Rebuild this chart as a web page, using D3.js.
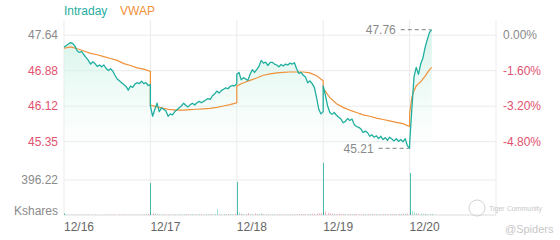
<!DOCTYPE html>
<html>
<head>
<meta charset="utf-8">
<script src="https://cdn.jsdelivr.net/npm/d3@7"></script>
<style>
  body { margin: 0; background: #fff; }
  svg { display: block; font-family: "Liberation Sans", Arial, sans-serif; }
</style>
</head>
<body>
<div id="chart"></div>
<script>
// --- data ---
const dayLabels = ["12/16", "12/17", "12/18", "12/19", "12/20"];
const prevClose = 47.64;
const pctTicks = [0, -1.6, -3.2, -4.8];
const volTick = 396.22;

// intraday price, one sample every 10 minutes
const priceDay1 = [47.38, 47.42, 47.45, 47.48, 47.46, 47.40, 47.30, 47.27, 47.29, 47.22,
  47.16, 47.10, 47.02, 47.07, 47.03, 46.97, 47.00, 46.96, 47.00, 46.93,
  46.88, 46.92, 46.87, 46.78, 46.70, 46.66, 46.62, 46.58, 46.54, 46.46,
  46.55, 46.52, 46.59, 46.62, 46.60, 46.65, 46.60, 46.62, 46.56, 46.58];
const priceDay2 = [46.12, 45.90, 46.05, 46.18, 46.00, 46.08, 46.05, 46.01, 45.90, 45.95,
  45.93, 46.00, 46.04, 46.08, 46.12, 46.18, 46.13, 46.10, 46.15, 46.18,
  46.14, 46.19, 46.22, 46.19, 46.22, 46.25, 46.28, 46.26, 46.34, 46.38,
  46.44, 46.40, 46.45, 46.48, 46.51, 46.49, 46.54, 46.56, 46.55, 46.60];
const priceDay3 = [46.80, 46.84, 46.68, 46.73, 46.70, 46.67, 46.80, 46.90, 46.84, 46.90,
  46.97, 47.10, 47.04, 47.06, 46.99, 47.05, 47.06, 47.02, 47.00, 46.96,
  47.01, 46.98, 47.02, 47.00, 47.04, 47.02, 47.05, 46.92, 46.82, 46.84,
  46.78, 46.74, 46.62, 46.66, 46.60, 46.52, 46.30, 46.05, 45.95, 46.00];
const priceDay4 = [46.55, 46.35, 46.12, 45.98, 45.94, 45.98, 45.92, 45.88, 45.84, 45.76,
  45.79, 45.85, 45.81, 45.84, 45.72, 45.68, 45.66, 45.63, 45.55, 45.58,
  45.55, 45.47, 45.50, 45.45, 45.48, 45.42, 45.47, 45.40, 45.44, 45.38,
  45.45, 45.41, 45.37, 45.42, 45.36, 45.40, 45.35, 45.42, 45.27, 45.21];
const priceDay5 = [45.30, 46.05, 46.75, 46.95, 46.80, 47.02, 47.15, 47.38, 47.55, 47.70, 47.76];

// VWAP, every 30 minutes (last day every 10 minutes)
const vwapDay1 = [47.36, 47.39, 47.35, 47.30, 47.25, 47.22, 47.18, 47.14, 47.10, 47.03, 46.99, 46.94, 46.91, 46.86];
const vwapDay2 = [46.14, 46.10, 46.07, 46.04, 46.03, 46.03, 46.04, 46.05, 46.06, 46.07, 46.09, 46.12, 46.15, 46.19];
const vwapDay3 = [46.55, 46.62, 46.67, 46.72, 46.78, 46.81, 46.83, 46.84, 46.85, 46.85, 46.85, 46.83, 46.77, 46.66];
const vwapDay4 = [46.50, 46.30, 46.17, 46.09, 46.03, 45.98, 45.93, 45.90, 45.86, 45.83, 45.80, 45.77, 45.74, 45.68];
const vwapDay5 = [45.95, 46.30, 46.45, 46.55, 46.60, 46.64, 46.70, 46.76, 46.83, 46.90, 46.95];
const vwapSteps = [30, 30, 30, 30, 10];

// volume in Kshares, every 10 minutes
const volDay1 = [18, 6, 4, 3, 5, 2, 3, 4, 2, 3, 2, 5, 3, 2, 4, 3, 2, 3, 2, 2,
  3, 5, 6, 4, 3, 7, 5, 3, 4, 3, 5, 4, 3, 4, 6, 5, 7, 9, 12, 22];
const volDay2 = [362, 25, 14, 10, 8, 6, 9, 5, 7, 6, 5, 8, 6, 5, 7, 6, 9, 6, 5, 7,
  6, 8, 7, 9, 6, 8, 7, 10, 8, 12, 68, 9, 8, 10, 9, 8, 11, 10, 15, 28];
const volDay3 = [375, 28, 15, 12, 9, 22, 10, 8, 18, 9, 7, 20, 9, 8, 7, 6, 8, 7, 6, 5,
  7, 6, 8, 7, 6, 5, 7, 8, 9, 10, 8, 9, 11, 10, 12, 14, 16, 18, 22, 30];
const volDay4 = [590, 40, 25, 18, 14, 12, 10, 15, 12, 9, 8, 10, 9, 8, 11, 9, 8, 7, 10, 8,
  9, 7, 8, 9, 10, 8, 7, 9, 8, 10, 9, 8, 11, 9, 10, 12, 14, 13, 18, 35];
const volDay5 = [475, 45, 30, 22, 18, 15, 12, 14, 11, 10, 12];

const priceDays = [priceDay1, priceDay2, priceDay3, priceDay4, priceDay5];
const vwapDays = [vwapDay1, vwapDay2, vwapDay3, vwapDay4, vwapDay5];
const volDays = [volDay1, volDay2, volDay3, volDay4, volDay5];
const sessionMinutes = 390;
const priceStep = 10;

// --- layout ---
const width = 560;
const height = 240;
const plotLeft = 64;
const plotRight = 496;
const plotTop = 20;
const priceBottom = 156;
const volBase = 215;

const teal = "#1fae9f";
const orange = "#f0913a";
const red = "#e0526f";
const gray = "#8a8a8a";
const gridColor = "#ebebeb";

const priceData = [];
priceDays.forEach((arr, d) => arr.forEach((v, i) => {
  priceData.push({ t: d + (i * priceStep) / sessionMinutes, v: v });
}));
const vwapData = [];
vwapDays.forEach((arr, d) => arr.forEach((v, i) => {
  vwapData.push({ t: d + (i * vwapSteps[d]) / sessionMinutes, v: v });
}));
const volData = [];
volDays.forEach((arr, d) => arr.forEach((v, i) => {
  const p = priceDays[d];
  const up = i === 0 || p[i] >= p[i - 1];
  volData.push({ t: d + (i * priceStep) / sessionMinutes, v: v, up: up, big: i === 0 });
}));

const xScale = d3.scaleLinear().domain([0, dayLabels.length]).range([plotLeft, plotRight]);
const tickPrices = pctTicks.map((p) => prevClose * (1 + p / 100));
const yScale = d3.scaleLinear()
  .domain([tickPrices[tickPrices.length - 1], tickPrices[0]])
  .range([141.7, 35.2]);
const vScale = d3.scaleLinear().domain([0, volTick]).range([volBase, 180]);

const svg = d3.select("#chart").append("svg")
  .attr("width", width)
  .attr("height", height);

const defs = svg.append("defs");
const grad = defs.append("linearGradient")
  .attr("id", "fillGrad")
  .attr("gradientUnits", "userSpaceOnUse")
  .attr("x1", 0).attr("y1", plotTop).attr("x2", 0).attr("y2", priceBottom);
grad.append("stop").attr("offset", "0%").attr("stop-color", "#c6f0e1").attr("stop-opacity", 0.85);
grad.append("stop").attr("offset", "100%").attr("stop-color", "#e8faf3").attr("stop-opacity", 0);

// grid
const grid = svg.append("g");
grid.selectAll(".hgrid")
  .data(tickPrices)
  .enter()
  .append("line")
  .attr("x1", plotLeft).attr("x2", plotRight)
  .attr("y1", (d) => yScale(d)).attr("y2", (d) => yScale(d))
  .attr("stroke", gridColor);
grid.append("line")
  .attr("x1", plotLeft).attr("x2", plotRight)
  .attr("y1", vScale(volTick)).attr("y2", vScale(volTick))
  .attr("stroke", gridColor);
grid.selectAll(".vgrid")
  .data(d3.range(dayLabels.length + 1))
  .enter()
  .append("line")
  .attr("x1", (d) => xScale(d)).attr("x2", (d) => xScale(d))
  .attr("y1", plotTop).attr("y2", volBase)
  .attr("stroke", gridColor);
grid.append("line")
  .attr("x1", plotLeft).attr("x2", plotRight)
  .attr("y1", volBase).attr("y2", volBase)
  .attr("stroke", "#dcdcdc");

// area + lines
const area = d3.area()
  .x((d) => xScale(d.t))
  .y0(priceBottom)
  .y1((d) => yScale(d.v));
svg.append("path")
  .datum(priceData)
  .attr("d", area)
  .attr("fill", "url(#fillGrad)");

const line = d3.line()
  .x((d) => xScale(d.t))
  .y((d) => yScale(d.v));
svg.append("path")
  .datum(vwapData)
  .attr("d", line)
  .attr("fill", "none")
  .attr("stroke", orange)
  .attr("stroke-width", 1.2);
svg.append("path")
  .datum(priceData)
  .attr("d", line)
  .attr("fill", "none")
  .attr("stroke", teal)
  .attr("stroke-width", 1.3)
  .attr("stroke-linejoin", "round");

// volume
svg.selectAll(".vol")
  .data(volData)
  .enter()
  .append("line")
  .attr("x1", (d) => Math.round(xScale(d.t)) + 0.5)
  .attr("x2", (d) => Math.round(xScale(d.t)) + 0.5)
  .attr("y1", volBase)
  .attr("y2", (d) => vScale(d.v))
  .attr("stroke", (d) => (d.up ? teal : red))
  .attr("stroke-opacity", (d) => (d.big ? 0.8 : 0.4))
  .attr("stroke-width", 1);

// max / min markers
const maxP = priceData.reduce((a, b) => (b.v > a.v ? b : a));
const minP = priceData.reduce((a, b) => (b.v < a.v ? b : a));
[maxP, minP].forEach((p) => {
  const px = xScale(p.t);
  const py = yScale(p.v);
  svg.append("line")
    .attr("x1", px - 31).attr("x2", px - 1)
    .attr("y1", py).attr("y2", py)
    .attr("stroke", "#999")
    .attr("stroke-width", 1.2)
    .attr("stroke-dasharray", "4,3");
  svg.append("text")
    .attr("x", px - 36)
    .attr("y", py)
    .attr("dy", "0.35em")
    .attr("text-anchor", "end")
    .attr("font-size", 12)
    .attr("fill", gray)
    .text(p.v.toFixed(2));
});

// axis labels
svg.selectAll(".ylab")
  .data(tickPrices)
  .enter()
  .append("text")
  .attr("x", 58)
  .attr("y", (d) => yScale(d))
  .attr("dy", "0.35em")
  .attr("text-anchor", "end")
  .attr("font-size", 12)
  .attr("fill", (d, i) => (pctTicks[i] < 0 ? red : gray))
  .text((d) => d.toFixed(2));
svg.selectAll(".pctlab")
  .data(pctTicks)
  .enter()
  .append("text")
  .attr("x", 503)
  .attr("y", (d, i) => yScale(tickPrices[i]))
  .attr("dy", "0.35em")
  .attr("font-size", 12)
  .attr("fill", (d) => (d < 0 ? red : gray))
  .text((d) => d.toFixed(2) + "%");
svg.append("text")
  .attr("x", 58).attr("y", vScale(volTick))
  .attr("dy", "0.35em")
  .attr("text-anchor", "end")
  .attr("font-size", 12)
  .attr("fill", gray)
  .text(volTick.toFixed(2));
svg.append("text")
  .attr("x", 58).attr("y", 211)
  .attr("dy", "0.35em")
  .attr("text-anchor", "end")
  .attr("font-size", 12)
  .attr("fill", gray)
  .text("Kshares");
svg.selectAll(".xlab")
  .data(dayLabels)
  .enter()
  .append("text")
  .attr("x", (d, i) => xScale(i))
  .attr("y", 231)
  .attr("font-size", 12)
  .attr("fill", "#666")
  .text((d) => d);

// legend
svg.append("text").attr("x", 64).attr("y", 15)
  .attr("font-size", 12).attr("fill", teal).text("Intraday");
svg.append("text").attr("x", 120).attr("y", 15)
  .attr("font-size", 12).attr("fill", orange).text("VWAP");

// watermark
svg.append("circle").attr("cx", 477).attr("cy", 208).attr("r", 8)
  .attr("fill", "none").attr("stroke", "#d4d4d4").attr("stroke-width", 1);
svg.append("text").attr("x", 489).attr("y", 211)
  .attr("font-size", 7).attr("fill", "#c8c8c8").text("Tiger Community");
svg.append("text").attr("x", 505).attr("y", 233)
  .attr("font-size", 11).attr("fill", "#c8c8c8").text("@Spiders");
</script>
</body>
</html>
